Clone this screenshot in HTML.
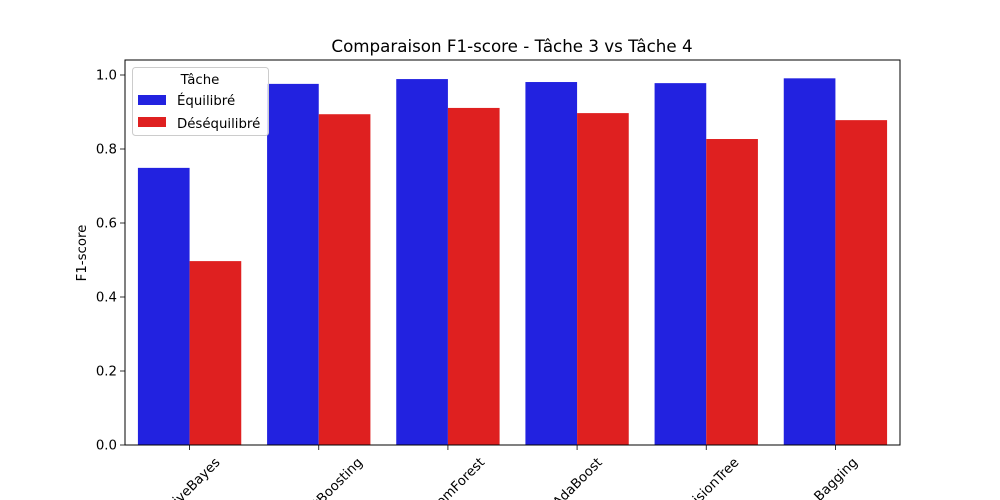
<!DOCTYPE html>
<html><head><meta charset="utf-8"><style>
html,body{margin:0;background:#fff;overflow:hidden;width:1000px;height:500px}
svg{display:block;overflow:hidden}
svg text{font-family:"DejaVu Sans","Liberation Sans",sans-serif;fill:#000}
</style></head><body>
<svg id="chart" width="1000" height="500" xmlns="http://www.w3.org/2000/svg">
<rect width="1000" height="500" fill="#fff"/>
<g id="bars"></g>
<g id="axes"></g>
<text x="512" y="52" text-anchor="middle" font-size="16.7">Comparaison F1-score - Tâche 3 vs Tâche 4</text>
<text transform="translate(86,253) rotate(-90)" text-anchor="middle" font-size="13.3">F1-score</text>
<g>
<rect x="132.5" y="67.5" width="136" height="68" rx="3" fill="#fff" fill-opacity="0.8" stroke="#ccc"/>
<text x="200" y="84" text-anchor="middle" font-size="13.3">Tâche</text>
<rect x="138" y="95" width="28" height="10" fill="#2222e0"/>
<text x="177" y="105" font-size="13.3">Équilibré</text>
<rect x="138" y="117" width="28" height="10" fill="#df2020"/>
<text x="177" y="128" font-size="13.3">Déséquilibré</text>
</g>
</svg>
<script>
const categories=["NaiveBayes","GradientBoosting","RandomForest","AdaBoost","DecisionTree","Bagging"];
const equilibre=[0.749,0.976,0.989,0.981,0.978,0.991];
const desequilibre=[0.497,0.894,0.911,0.897,0.827,0.878];
const yTicks=[0,0.2,0.4,0.6,0.8,1.0];
const yTickLabels=["0.0","0.2","0.4","0.6","0.8","1.0"];
const NS="http://www.w3.org/2000/svg";
const L=125,R=900,T=60,B=445;
const yS=v=>B-v*370;
const gw=(R-L)/categories.length;
const xS=i=>L+gw*(i+0.5);
const bw=gw*0.4;
const bars=document.getElementById('bars'),axes=document.getElementById('axes');
function mk(tag,at,parent){const e=document.createElementNS(NS,tag);for(const k in at)e.setAttribute(k,at[k]);parent.appendChild(e);return e;}
categories.forEach((c,i)=>{
  const cx=xS(i);
  const b1=mk('rect',{x:cx-bw,y:yS(equilibre[i]),width:bw,height:B-yS(equilibre[i]),fill:'#2222e0'},bars);
  
  
  const b2=mk('rect',{x:cx,y:yS(desequilibre[i]),width:bw,height:B-yS(desequilibre[i]),fill:'#df2020'},bars);
  
  
  const tk=mk('line',{x1:cx,x2:cx,y1:B,y2:B+5,stroke:'#000','stroke-width':0.8},axes);
  
  
  const t=mk('text',{'text-anchor':'middle','font-size':13.3,'dominant-baseline':'central'},axes);
  t.textContent=c;
  
  
  const w=t.getComputedTextLength();
  const cy=455+(w*0.707+16*0.707)/2;
  t.setAttribute('transform','translate('+(cx+1)+','+cy+') rotate(-45)');
});
yTicks.forEach((v,i)=>{
  const y=yS(v);
  const tk=mk('line',{x1:L-5,x2:L,y1:y,y2:y,stroke:'#000','stroke-width':0.8},axes);
  
  
  const t=mk('text',{x:L-8,y:y+4.5,'text-anchor':'end','font-size':13.3},axes);
  t.textContent=yTickLabels[i];
  
  
});
const fr=mk('rect',{x:L,y:T,width:R-L,height:B-T,fill:'none',stroke:'#000','stroke-width':1},axes);


</script>
</body></html>
